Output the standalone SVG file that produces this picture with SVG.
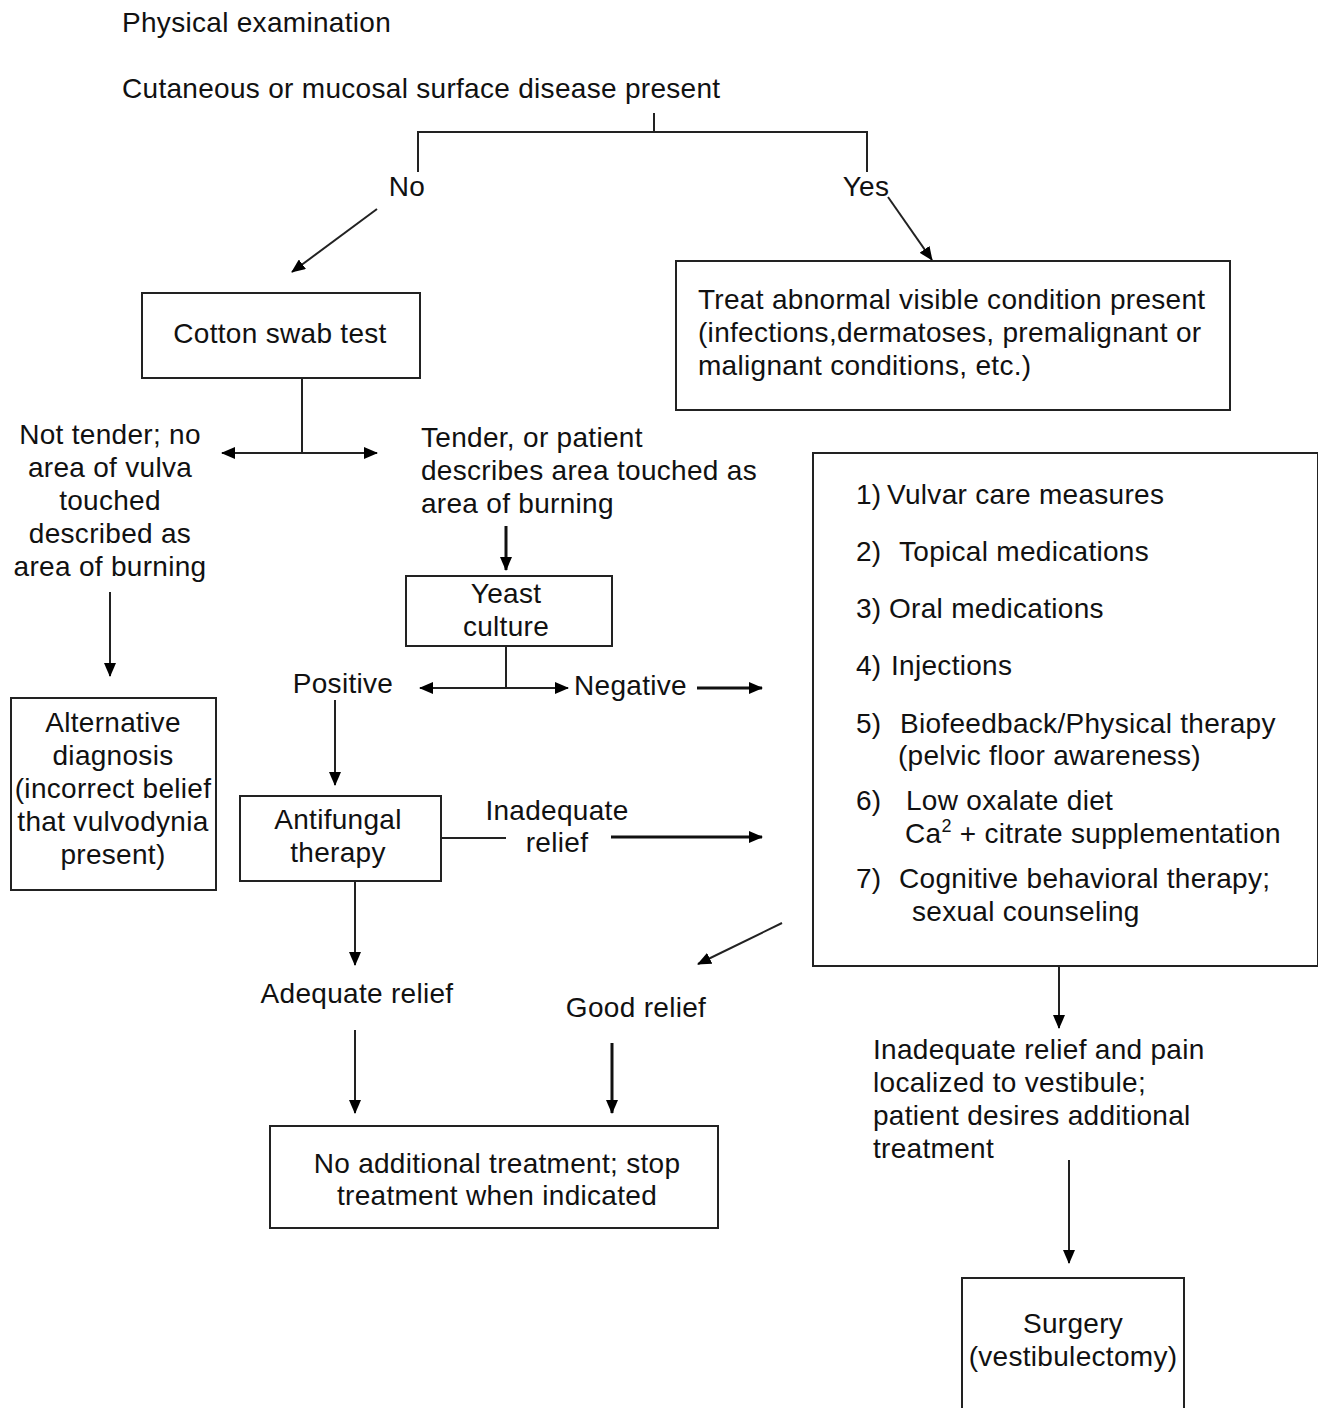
<svg xmlns="http://www.w3.org/2000/svg" width="1318" height="1408" viewBox="0 0 1318 1408">
<defs>
<marker id="ah" markerUnits="userSpaceOnUse" markerWidth="14" markerHeight="12" refX="13" refY="6" orient="auto">
<path d="M0,0 L14,6 L0,12 Z" fill="#000"/>
</marker>
<marker id="ahs" markerUnits="userSpaceOnUse" markerWidth="14" markerHeight="12" refX="1" refY="6" orient="auto">
<path d="M14,0 L0,6 L14,12 Z" fill="#000"/>
</marker>
<style>
text{font-family:"Liberation Sans",Arial,sans-serif;font-size:28px;fill:#111;letter-spacing:0.3px}
.c{text-anchor:middle}
rect{fill:#fff;stroke:#222;stroke-width:2}
.ln{fill:none;stroke:#222;stroke-width:2}
.thk{fill:none;stroke:#111;stroke-width:3}
</style>
</defs>
<rect x="0" y="0" width="1318" height="1408" style="fill:#fff;stroke:none"/>

<g id="connectors">
<path class="ln" d="M654,113 V132 M418,172 V132 H867 V172"/>
<path class="ln" d="M377,209 L292,272" marker-end="url(#ah)"/>
<path class="ln" d="M888,197 L932,260" marker-end="url(#ah)"/>
<path class="ln" d="M302,378 V453"/>
<path class="ln" d="M222,453 H377" marker-start="url(#ahs)" marker-end="url(#ah)"/>
<path class="ln" d="M110,592 V676" marker-end="url(#ah)"/>
<path class="thk" d="M506,526 V570" marker-end="url(#ah)"/>
<path class="ln" d="M506,646 V688"/>
<path class="ln" d="M420,688 H568" marker-start="url(#ahs)" marker-end="url(#ah)"/>
<path class="thk" d="M697,688 H762" marker-end="url(#ah)"/>
<path class="ln" d="M335,700 V785" marker-end="url(#ah)"/>
<path class="ln" d="M441,838 H506"/>
<path class="thk" d="M611,837 H762" marker-end="url(#ah)"/>
<path class="ln" d="M355,881 V965" marker-end="url(#ah)"/>
<path class="ln" d="M782,923 L698,964" marker-end="url(#ah)"/>
<path class="ln" d="M355,1030 V1113" marker-end="url(#ah)"/>
<path class="thk" d="M612,1043 V1113" marker-end="url(#ah)"/>
<path class="ln" d="M1059,966 V1028" marker-end="url(#ah)"/>
<path class="ln" d="M1069,1160 V1263" marker-end="url(#ah)"/>
</g>

<g id="header">
<text x="122" y="32">Physical examination</text>
<text x="122" y="98">Cutaneous or mucosal surface disease present</text>
</g>
<g id="label-no"><text x="407" y="196" class="c">No</text></g>
<g id="label-yes"><text x="866" y="196" class="c">Yes</text></g>

<g id="cotton-swab">
<rect x="142" y="293" width="278" height="85"/>
<text x="280" y="343" class="c">Cotton swab test</text>
</g>

<g id="treat-visible">
<rect x="676" y="261" width="554" height="149"/>
<text x="698" y="309">Treat abnormal visible condition present</text>
<text x="698" y="342">(infections,dermatoses, premalignant or</text>
<text x="698" y="375">malignant conditions, etc.)</text>
</g>

<g id="not-tender">
<text x="110" y="444" class="c">Not tender; no</text>
<text x="110" y="477" class="c">area of vulva</text>
<text x="110" y="510" class="c">touched</text>
<text x="110" y="543" class="c">described as</text>
<text x="110" y="576" class="c">area of burning</text>
</g>

<g id="alternative">
<rect x="11" y="698" width="205" height="192"/>
<text x="113" y="732" class="c">Alternative</text>
<text x="113" y="765" class="c">diagnosis</text>
<text x="113" y="798" class="c">(incorrect belief</text>
<text x="113" y="831" class="c">that vulvodynia</text>
<text x="113" y="864" class="c">present)</text>
</g>

<g id="tender">
<text x="421" y="447">Tender, or patient</text>
<text x="421" y="480">describes area touched as</text>
<text x="421" y="513">area of burning</text>
</g>

<g id="yeast">
<rect x="406" y="576" width="206" height="70"/>
<text x="506" y="603" class="c">Yeast</text>
<text x="506" y="636" class="c">culture</text>
</g>

<g id="label-positive"><text x="343" y="693" class="c">Positive</text></g>
<g id="label-negative"><text x="574" y="695">Negative</text></g>

<g id="antifungal">
<rect x="240" y="796" width="201" height="85"/>
<text x="338" y="829" class="c">Antifungal</text>
<text x="338" y="862" class="c">therapy</text>
</g>

<g id="label-inadequate">
<text x="557" y="820" class="c">Inadequate</text>
<text x="557" y="852" class="c">relief</text>
</g>

<g id="treatments">
<rect x="813" y="453" width="505" height="513"/>
<text x="856" y="504">1)</text><text x="887" y="504">Vulvar care measures</text>
<text x="856" y="561">2)</text><text x="899" y="561">Topical medications</text>
<text x="856" y="618">3)</text><text x="889" y="618">Oral medications</text>
<text x="856" y="675">4)</text><text x="891" y="675">Injections</text>
<text x="856" y="733">5)</text><text x="900" y="733">Biofeedback/Physical therapy</text>
<text x="898" y="765">(pelvic floor awareness)</text>
<text x="856" y="810">6)</text>
<text x="906" y="810">Low oxalate diet</text>
<text x="905" y="843">Ca<tspan dy="-11" font-size="18">2</tspan><tspan dy="11"> + citrate supplementation</tspan></text>
<text x="856" y="888">7)</text><text x="899" y="888">Cognitive behavioral therapy;</text>
<text x="912" y="921">sexual counseling</text>
</g>

<g id="adequate-relief"><text x="357" y="1003" class="c">Adequate relief</text></g>
<g id="good-relief"><text x="636" y="1017" class="c">Good relief</text></g>

<g id="no-additional">
<rect x="270" y="1126" width="448" height="102"/>
<text x="497" y="1173" class="c">No additional treatment; stop</text>
<text x="497" y="1205" class="c">treatment when indicated</text>
</g>

<g id="inadequate-vestibule">
<text x="873" y="1059">Inadequate relief and pain</text>
<text x="873" y="1092">localized to vestibule;</text>
<text x="873" y="1125">patient desires additional</text>
<text x="873" y="1158">treatment</text>
</g>

<g id="surgery">
<rect x="962" y="1278" width="222" height="140"/>
<text x="1073" y="1333" class="c">Surgery</text>
<text x="1073" y="1366" class="c">(vestibulectomy)</text>
</g>
</svg>
